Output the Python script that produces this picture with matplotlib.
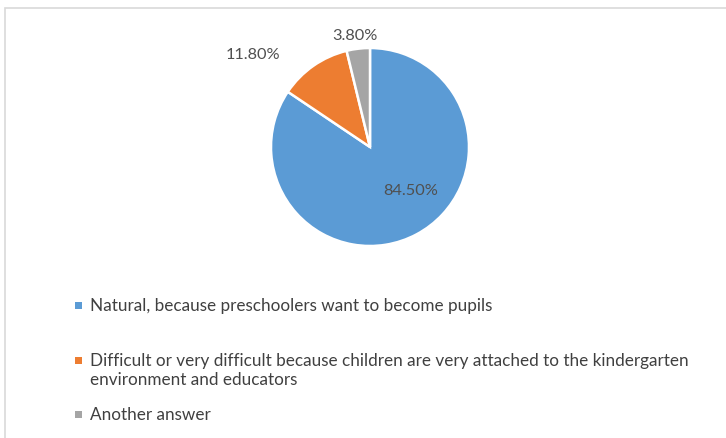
import matplotlib
matplotlib.use("Agg")
import matplotlib.pyplot as plt
from matplotlib.patches import Rectangle

# data
categories = ['Natural, because preschoolers want to become pupils',
              'Difficult or very difficult because children are very attached to the kindergarten\nenvironment and educators',
              'Another answer']
values = [84.5, 11.8, 3.8]
pct_labels = ['84.50%', '11.80%', '3.80%']
colors = ['#5B9BD5', '#ED7D31', '#A5A5A5']

W, H = 726, 439
fig = plt.figure(figsize=(W / 100, H / 100), dpi=100)
plt.rcParams['font.family'] = ['Lato', 'DejaVu Sans']

# chart frame
fig.patches.append(Rectangle((5 / W, -0.1), 1.2, 1 - 9 / H + 0.1, transform=fig.transFigure,
                             fill=False, edgecolor='#D9D9D9', linewidth=1.2))

cx, cy, r = 370, 148, 99
ax = fig.add_axes([(cx - r) / W, 1 - (cy + r) / H, 2 * r / W, 2 * r / H])
ax.pie(values, colors=colors, startangle=90, counterclock=False,
       wedgeprops=dict(edgecolor='white', linewidth=1.8))
ax.set_xlim(-1, 1)
ax.set_ylim(-1, 1)
ax.set_aspect('equal')
ax.axis('off')

# label positions (in pie radius units)
label_pos = [(0.41, -0.43), (-1.18, 0.94), (-0.15, 1.13)]
for (x, y), t in zip(label_pos, pct_labels):
    ax.text(x, y, t, ha='center', va='center', fontsize=11.8, color='#505050', clip_on=False)

# legend
rows_y = [306, 361, 415]
for y, c, lab in zip(rows_y, colors, categories):
    fig.patches.append(Rectangle((75 / W, 1 - (y + 3.5) / H), 7 / W, 7 / H,
                                 transform=fig.transFigure, facecolor=c, edgecolor='none'))
    fig.text(90 / W, 1 - (y - 8) / H, lab, ha='left', va='top', fontsize=12.3,
             color='#404040', linespacing=1.2)

fig.savefig('out.png', dpi=100)
